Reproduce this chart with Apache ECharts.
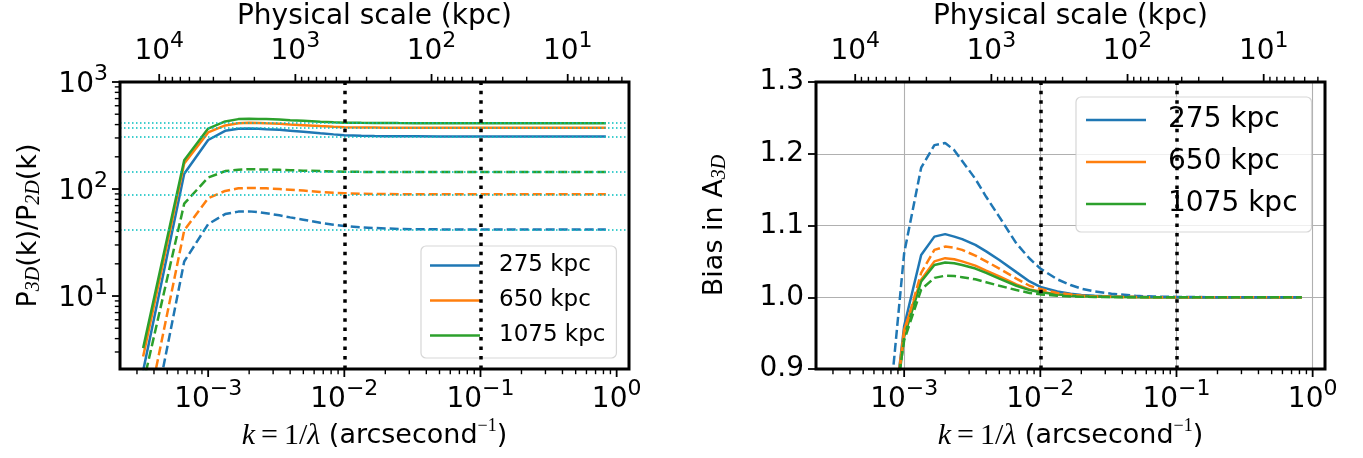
<!DOCTYPE html>
<html>
<head>
<meta charset="utf-8">
<title>Projection bias of the 3D amplitude</title>
<script src="https://cdn.jsdelivr.net/npm/echarts@6.0.0/dist/echarts.min.js"></script>
<style>
  html, body { margin: 0; padding: 0; background: #ffffff; }
  #chart { width: 1363px; height: 458px; }
</style>
</head>
<body>
<div id="chart"></div>
<script>
// Spatial frequency samples k = 1/lambda (arcsecond^-1)
const kValues = [0.000333, 0.000667, 0.001, 0.001333, 0.001667, 0.002, 0.002333, 0.002667,
  0.003333, 0.004, 0.005, 0.006667, 0.008333, 0.01, 0.01333, 0.01667, 0.02, 0.025,
  0.03333, 0.05, 0.06667, 0.1, 0.1667, 0.3333, 0.8333];

// P3D(k)/P2D(k), solid curves
const ratioSolid275 = [2.0, 139, 287, 350, 365, 368, 366, 362, 357, 351, 343, 332, 324, 318, 314.5, 312.8, 311.8, 311, 310.5, 310.2, 310.1, 310, 310, 310, 310];
const ratioSolid650 = [2.72, 173, 338, 393, 411, 415, 414, 411, 407, 401, 395, 387, 382, 378.5, 376, 375, 374.4, 373.9, 373.5, 373.2, 373.1, 373, 373, 373, 373];
const ratioSolid1075 = [3.26, 186, 367, 428, 450, 453, 452, 450, 446, 440, 434, 425, 420, 417, 415, 414, 413.3, 412.8, 412.4, 412.2, 412.1, 412, 412, 412, 412];
// P3D(k)/P2D(k), dashed curves
const ratioDash275 = [0.24, 21, 47, 58.3, 61.5, 61.8, 60.8, 59.4, 56.8, 54.3, 51.7, 48.3, 46.4, 45.2, 43.9, 43.2, 42.8, 42.4, 42.1, 41.95, 41.87, 41.82, 41.8, 41.8, 41.8];
const ratioDash650 = [0.54, 41, 82, 96, 101.5, 102.4, 102, 101.4, 100, 98.5, 96.6, 94, 92.2, 91.3, 90.4, 90, 89.7, 89.5, 89.4, 89.35, 89.3, 89.3, 89.3, 89.3, 89.3];
const ratioDash1075 = [1.5, 73, 128, 147, 151.5, 153, 152.5, 152, 151, 150, 148.5, 147, 145.8, 145.2, 144.6, 144.3, 144.2, 144.1, 144.05, 144, 144, 144, 144, 144, 144];

// Bias in A3D, solid curves
const biasSolid275 = [0.08, 0.67, 0.96, 1.059, 1.0845, 1.088, 1.0845, 1.081, 1.073, 1.064, 1.052, 1.035, 1.022, 1.0144, 1.008, 1.005, 1.003, 1.002, 1.001, 1.0005, 1.0002, 1.0001, 1, 1, 1];
const biasSolid650 = [0.085, 0.68, 0.955, 1.0245, 1.05, 1.0545, 1.053, 1.05, 1.044, 1.037, 1.029, 1.018, 1.011, 1.008, 1.004, 1.003, 1.002, 1.0012, 1.0006, 1.0003, 1.0001, 1, 1, 1, 1];
const biasSolid1075 = [0.089, 0.672, 0.945, 1.022, 1.045, 1.0485, 1.0475, 1.045, 1.04, 1.034, 1.026, 1.016, 1.01, 1.007, 1.004, 1.002, 1.0015, 1.001, 1.0005, 1.0002, 1.0001, 1, 1, 1, 1];
// Bias in A3D, dashed curves
const biasDash275 = [0.076, 0.71, 1.0615, 1.1806, 1.212, 1.215, 1.205, 1.19, 1.165, 1.14, 1.112, 1.075, 1.054, 1.04, 1.025, 1.017, 1.012, 1.008, 1.005, 1.002, 1.001, 1.0005, 1.0001, 1, 1];
const biasDash650 = [0.078, 0.678, 0.95, 1.034, 1.066, 1.0706, 1.069, 1.066, 1.058, 1.05, 1.04, 1.026, 1.016, 1.0116, 1.006, 1.004, 1.002, 1.0012, 1.0006, 1.0003, 1.0001, 1, 1, 1, 1];
const biasDash1075 = [0.102, 0.712, 0.94, 1.0107, 1.027, 1.03, 1.0295, 1.028, 1.025, 1.021, 1.016, 1.01, 1.006, 1.004, 1.002, 1.001, 1.0007, 1.0004, 1.0002, 1.0001, 1, 1, 1, 1, 1];

const sizeNames = ['275 kpc', '650 kpc', '1075 kpc'];
const sizeColors = ['#1f77b4', '#ff7f0e', '#2ca02c'];
// Large-scale plateau levels of the ratio curves
const plateauLevels = [412, 373, 310, 144, 89.3, 41.8];
// Scales marked by vertical guides
const markedK = [0.01, 0.1];
// Conversion between angular and physical scale
const KPC_PER_ARCSEC = 4.37;

const FONT = "'DejaVu Sans', sans-serif";
const SERIF = "'Liberation Serif', 'DejaVu Serif', serif";

// Log-axis extent with 5% padding in log space
const logLo = Math.log10(Math.min(...kValues));
const logHi = Math.log10(Math.max(...kValues));
const pad = 0.05 * (logHi - logLo);
const K_MIN = Math.pow(10, logLo - pad);
const K_MAX = Math.pow(10, logHi + pad);
const KPC_MIN = KPC_PER_ARCSEC / K_MAX;
const KPC_MAX = KPC_PER_ARCSEC / K_MIN;
const RATIO_MIN = 2.08, RATIO_MAX = 1000;

const grids = [
  { left: 120, top: 82, width: 509, height: 287 },
  { left: 816, top: 82, width: 509, height: 287 }
];

// 10^n tick labels: raised exponent
const TICK_RICH = {
  b: { fontSize: 28, fontFamily: FONT, color: '#000', lineHeight: 28 },
  s: { fontSize: 22, fontFamily: FONT, color: '#000', lineHeight: 28, padding: [0, 0, 22, 0] }
};
const Y_TICK_RICH = {
  b: { fontSize: 28, fontFamily: FONT, color: '#000', lineHeight: 28, padding: [6, 0, 0, 0] },
  s: { fontSize: 22, fontFamily: FONT, color: '#000', lineHeight: 28, padding: [0, 0, 16, 0] }
};
function powerLabel(v) {
  const e = Math.round(Math.log10(v));
  return '{b|10}{s|' + (e < 0 ? '\u2212' + (-e) : String(e)) + '}';
}

const NAME_RICH = {
  t: { fontSize: 27, fontFamily: FONT, color: '#000', lineHeight: 32 },
  mi: { fontSize: 30, fontFamily: SERIF, fontStyle: 'italic', color: '#000', lineHeight: 32 },
  mr: { fontSize: 30, fontFamily: SERIF, color: '#000', lineHeight: 32 },
  sup: { fontSize: 18, fontFamily: SERIF, color: '#000', lineHeight: 32, padding: [0, 0, 20, 0] },
  sub: { fontSize: 20, fontFamily: SERIF, fontStyle: 'italic', color: '#000', lineHeight: 32, padding: [10, 0, 0, 0] }
};
const K_NAME = '{mi|k}{mr|\u2009=\u20091/}{mi|\u03bb}{t| (arcsecond}{sup|\u22121}{t|)}';
const RATIO_NAME = '{t|P}{sub|3D}{t|(k)/P}{sub|2D}{t|(k)}';
const BIAS_MAIN = 'Bias in A';
const BIAS_SUB = '3D';
function nameStyle() {
  return { fontSize: 27, fontFamily: FONT, color: '#000', overflow: 'none', rich: NAME_RICH };
}

function kAxis(gridIndex) {
  return {
    type: 'log', gridIndex, position: 'bottom', min: K_MIN, max: K_MAX,
    axisLine: { show: false }, axisTick: { show: false }, minorTick: { show: false },
    axisLabel: { formatter: powerLabel, rich: TICK_RICH, margin: 17, showMinLabel: false, showMaxLabel: false },
    splitLine: { show: gridIndex === 1, lineStyle: { color: '#b0b0b0', width: 1.1 } },
    name: K_NAME, nameLocation: 'middle', nameGap: 51, nameMoveOverlap: false, nameTextStyle: nameStyle()
  };
}
function kpcAxis(gridIndex) {
  return {
    type: 'log', gridIndex, position: 'top', inverse: true, min: KPC_MIN, max: KPC_MAX,
    axisLine: { show: false }, axisTick: { show: false }, splitLine: { show: false },
    axisLabel: { formatter: powerLabel, rich: TICK_RICH, margin: 16, showMinLabel: false, showMaxLabel: false },
    name: 'Physical scale (kpc)', nameLocation: 'middle', nameGap: 49, nameMoveOverlap: false,
    nameTextStyle: { fontSize: 28, fontFamily: FONT, color: '#000', lineHeight: 32 }
  };
}
function frameAxis(gridIndex) {
  return { type: 'value', gridIndex, position: 'right', min: 0, max: 1, show: false };
}

function curve(name, values, color, dashed, panel) {
  return {
    type: 'line', name, xAxisIndex: panel * 2, yAxisIndex: panel * 2,
    data: kValues.map((k, i) => [k, values[i]]),
    symbol: 'none', clip: true, animation: false, silent: true,
    lineStyle: { color, width: 2.5, type: dashed ? [9, 4] : 'solid', cap: 'butt' },
    itemStyle: { color }, z: 3
  };
}

const solidRatio = [ratioSolid275, ratioSolid650, ratioSolid1075];
const dashRatio = [ratioDash275, ratioDash650, ratioDash1075];
const solidBias = [biasSolid275, biasSolid650, biasSolid1075];
const dashBias = [biasDash275, biasDash650, biasDash1075];

const series = [];
for (let i = 0; i < 3; i++) series.push(curve(sizeNames[i], solidRatio[i], sizeColors[i], false, 0));
for (let i = 0; i < 3; i++) series.push(curve(sizeNames[i] + ' dashed', dashRatio[i], sizeColors[i], true, 0));
for (let i = 0; i < 3; i++) series.push(curve(sizeNames[i], solidBias[i], sizeColors[i], false, 1));
for (let i = 0; i < 3; i++) series.push(curve(sizeNames[i] + ' dashed', dashBias[i], sizeColors[i], true, 1));

// Plateau guides (cyan) and scale guides (black dotted)
series.push({
  type: 'line', name: 'plateaus', xAxisIndex: 0, yAxisIndex: 0, data: [], silent: true, z: 4,
  markLine: {
    silent: true, animation: false, symbol: ['none', 'none'], label: { show: false },
    lineStyle: { color: '#00bfbf', width: 1.5, type: [1.5, 2.5], cap: 'butt' },
    data: plateauLevels.map(v => ({ yAxis: v }))
  }
});
[0, 1].forEach(p => {
  series.push({
    type: 'line', name: 'scale guides ' + p, xAxisIndex: p * 2, yAxisIndex: p * 2, data: [], silent: true, z: 4,
    markLine: {
      silent: true, animation: false, symbol: ['none', 'none'], label: { show: false },
      lineStyle: { color: '#000', width: 3.5, type: [3.5, 5.97], cap: 'butt' },
      data: markedK.map(v => ({ xAxis: v }))
    }
  });
});

function legendBox(left, top, fontSize, itemWidth, gap, padding, textPad) {
  return {
    show: true, orient: 'vertical', left, top, data: sizeNames, selectedMode: false,
    icon: 'rect', itemWidth, itemHeight: 2.6, itemGap: gap, padding,
    backgroundColor: 'rgba(255,255,255,0.8)', borderColor: 'rgba(204,204,204,0.8)',
    borderWidth: 1.2, borderRadius: 5,
    textStyle: { fontSize, lineHeight: fontSize, fontFamily: FONT, color: '#000', padding: [0, 0, 0, textPad] }
  };
}

const option = {
  animation: false,
  backgroundColor: '#ffffff',
  textStyle: { fontFamily: FONT },
  grid: grids.map(g => Object.assign({ containLabel: false, outerBoundsMode: 'none' }, g)),
  xAxis: [kAxis(0), kpcAxis(0), kAxis(1), kpcAxis(1)],
  yAxis: [
    {
      type: 'log', gridIndex: 0, min: RATIO_MIN, max: RATIO_MAX,
      axisLine: { show: false }, axisTick: { show: false }, splitLine: { show: false },
      axisLabel: { formatter: powerLabel, rich: Y_TICK_RICH, margin: 12, showMinLabel: false, showMaxLabel: true },
      name: RATIO_NAME, nameLocation: 'middle', nameGap: 75, nameRotate: 90,
      nameMoveOverlap: false, nameTextStyle: nameStyle()
    },
    frameAxis(0),
    {
      type: 'value', gridIndex: 1, min: 0.9, max: 1.3, interval: 0.1,
      axisLine: { show: false },
      axisTick: { show: true, length: 8, lineStyle: { color: '#000', width: 1.8 } },
      splitLine: { show: true, lineStyle: { color: '#b0b0b0', width: 1.1 } },
      axisLabel: { formatter: v => v.toFixed(1), fontSize: 28, fontFamily: FONT, color: '#000', margin: 12 }
    },
    frameAxis(1)
  ],
  legend: [
    legendBox(421, 246, 23, 50, 12, [8, 11, 11, 9], 14),
    legendBox(1076, 97, 28, 60, 14, [9, 14, 14, 10], 17)
  ],
  series
};

const chart = echarts.init(document.getElementById('chart'), null, { renderer: 'canvas' });
chart.setOption(option);

// Ticks (major at decades, minor at 2..9), axes frames and the bias-axis title
function decadeTicks(lo, hi) {
  const out = [];
  for (let n = Math.floor(Math.log10(lo)) - 1; n <= Math.ceil(Math.log10(hi)); n++) {
    for (let m = 1; m <= 9; m++) {
      const v = m * Math.pow(10, n);
      if (v >= lo * (1 - 1e-9) && v <= hi * (1 + 1e-9)) out.push({ v, major: m === 1 });
    }
  }
  return out;
}
function textWidth(text, font) {
  const ctx = document.createElement('canvas').getContext('2d');
  ctx.font = font;
  return ctx.measureText(text).width;
}
function buildDecorations() {
  const g = [];
  const line = (x1, y1, x2, y2, w) => g.push({
    type: 'line', silent: true, z: 50, shape: { x1, y1, x2, y2 }, style: { stroke: '#000', lineWidth: w }
  });
  const MAJ = 8, MIN = 5.2, WMAJ = 1.8, WMIN = 1.4;
  grids.forEach((r, p) => {
    const bottom = r.top + r.height, top = r.top;
    decadeTicks(K_MIN, K_MAX).forEach(t => {
      const x = chart.convertToPixel({ xAxisIndex: p * 2 }, t.v);
      line(x, bottom, x, bottom + (t.major ? MAJ : MIN), t.major ? WMAJ : WMIN);
    });
    decadeTicks(KPC_MIN, KPC_MAX).forEach(t => {
      const x = chart.convertToPixel({ xAxisIndex: p * 2 + 1 }, t.v);
      line(x, top, x, top - (t.major ? MAJ : MIN), t.major ? WMAJ : WMIN);
    });
    g.push({
      type: 'rect', silent: true, z: 60,
      shape: { x: r.left, y: r.top, width: r.width, height: r.height },
      style: { fill: null, stroke: '#000', lineWidth: 3 }
    });
  });
  decadeTicks(RATIO_MIN, RATIO_MAX).forEach(t => {
    const y = chart.convertToPixel({ yAxisIndex: 0 }, t.v);
    line(grids[0].left, y, grids[0].left - (t.major ? MAJ : MIN), y, t.major ? WMAJ : WMIN);
  });

  // Bias axis title, written upward along the left edge of the second panel
  const mainFont = '27px DejaVu Sans';
  const subFont = 'italic 20px "Liberation Serif"';
  const w1 = textWidth(BIAS_MAIN, mainFont);
  const w2 = textWidth(BIAS_SUB, subFont);
  const start = -(w1 + w2) / 2;
  const r1 = grids[1];
  g.push({
    type: 'group', silent: true, z: 50,
    x: r1.left - 101, y: r1.top + r1.height / 2, rotation: Math.PI / 2,
    children: [
      { type: 'text', silent: true, x: start, y: 0,
        style: { text: BIAS_MAIN, fontSize: 27, fontFamily: 'DejaVu Sans', fill: '#000', align: 'left', verticalAlign: 'middle' } },
      { type: 'text', silent: true, x: start + w1, y: 5,
        style: { text: BIAS_SUB, fontSize: 20, fontStyle: 'italic', fontFamily: 'Liberation Serif', fill: '#000', align: 'left', verticalAlign: 'middle' } }
    ]
  });
  return g;
}
chart.setOption({ graphic: buildDecorations() });
</script>
</body>
</html>
